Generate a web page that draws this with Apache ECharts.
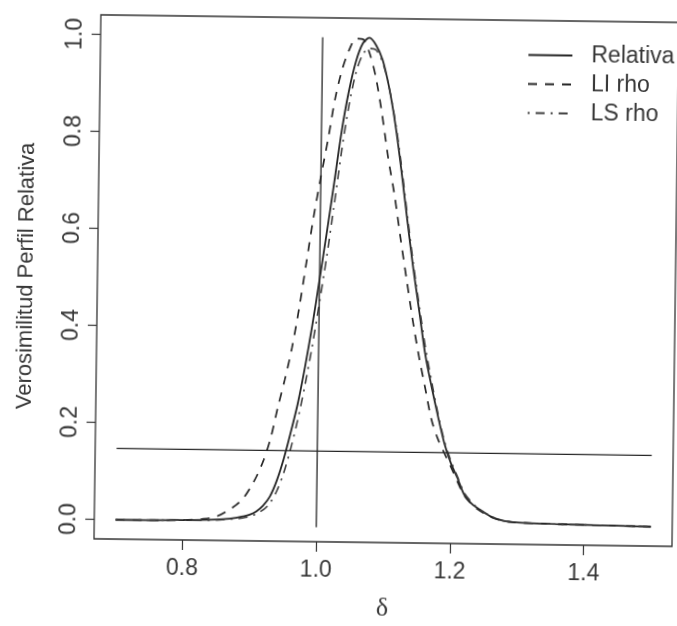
<!DOCTYPE html>
<html>
<head>
<meta charset="utf-8">
<script src="https://cdn.jsdelivr.net/npm/echarts@6/dist/echarts.min.js"></script>
<style>
  html, body { margin: 0; padding: 0; background: #fff; overflow: hidden; }
  #chart { width: 677px; height: 626px; transform: rotate(0.75deg); transform-origin: 50% 50%; }
</style>
</head>
<body>
<div id="chart"></div>
<script>
// delta grid and the three relative likelihood curves
const delta = [0.70, 0.75, 0.80, 0.83, 0.85, 0.87, 0.88, 0.89, 0.90, 0.91,
  0.92, 0.93, 0.94, 0.95, 0.96, 0.97, 0.98, 0.99, 1.00, 1.01,
  1.02, 1.03, 1.04, 1.05, 1.06, 1.07, 1.08, 1.09, 1.10, 1.11,
  1.12, 1.13, 1.14, 1.15, 1.16, 1.17, 1.18, 1.19, 1.20, 1.21,
  1.22, 1.23, 1.24, 1.26, 1.28, 1.30, 1.35, 1.40, 1.45, 1.50];
const relativa = [0, 0, 0.001, 0.002, 0.003, 0.005, 0.007, 0.010, 0.014, 0.021,
  0.033, 0.052, 0.085, 0.130, 0.185, 0.245, 0.320, 0.405, 0.500, 0.598,
  0.700, 0.805, 0.888, 0.950, 0.988, 1.000, 0.985, 0.955, 0.900, 0.825,
  0.730, 0.625, 0.525, 0.435, 0.345, 0.280, 0.220, 0.165, 0.125, 0.095,
  0.062, 0.045, 0.034, 0.017, 0.008, 0.005, 0.003, 0.002, 0.001, 0];
const liRho = [0, 0, 0.001, 0.004, 0.009, 0.024, 0.034, 0.047, 0.068, 0.094,
  0.127, 0.172, 0.235, 0.293, 0.358, 0.440, 0.535, 0.630, 0.712, 0.790,
  0.875, 0.935, 0.975, 0.998, 0.997, 0.970, 0.920, 0.845, 0.755, 0.680,
  0.590, 0.504, 0.420, 0.345, 0.280, 0.215, 0.175, 0.146, 0.118, 0.088,
  0.060, 0.044, 0.032, 0.016, 0.008, 0.005, 0.003, 0.002, 0.001, 0];
const lsRho = [0, 0, 0.001, 0.001, 0.002, 0.004, 0.005, 0.007, 0.010, 0.016,
  0.024, 0.038, 0.063, 0.100, 0.150, 0.210, 0.280, 0.360, 0.450, 0.545,
  0.650, 0.760, 0.855, 0.925, 0.965, 0.978, 0.975, 0.950, 0.900, 0.830,
  0.740, 0.635, 0.535, 0.445, 0.360, 0.290, 0.225, 0.170, 0.130, 0.098,
  0.066, 0.048, 0.035, 0.018, 0.008, 0.005, 0.003, 0.002, 0.001, 0];

// cut-off line and reference line at delta = 1
const cutX = [0.7, 1.5];
const cutY = [0.1466, 0.1466];
const refX = [1.0, 1.0];
const refY = [-0.01, 1.0];

const xTicks = [0.8, 1.0, 1.2, 1.4];
const yTicks = [0, 0.2, 0.4, 0.6, 0.8, 1.0];

const zip = (xs, ys) => xs.map((x, i) => [x, ys[i]]);

const ink = '#262626';
const textColor = '#383838';
const font = 'Liberation Sans';

const chart = echarts.init(document.getElementById('chart'));
chart.setOption({
  animation: false,
  backgroundColor: '#fff',
  grid: {
    left: 97,
    top: 18,
    width: 578,
    height: 524,
    show: true,
    borderColor: '#333',
    borderWidth: 1.3
  },
  legend: {
    orient: 'vertical',
    left: 519,
    top: 36,
    itemWidth: 44,
    itemHeight: 14,
    itemGap: 6,
    itemStyle: { opacity: 0, borderWidth: 0 },
    textStyle: {
      fontFamily: font,
      fontSize: 23,
      color: textColor,
      lineHeight: 22,
      padding: [0, 0, 0, 14]
    },
    data: ['Relativa', 'LI rho', 'LS rho']
  },
  xAxis: {
    type: 'value',
    min: 0.668,
    max: 1.532,
    name: 'δ',
    nameLocation: 'middle',
    nameGap: 53,
    nameTextStyle: { fontFamily: 'Liberation Serif', fontSize: 26, color: textColor },
    axisLine: { show: false, onZero: false },
    splitLine: { show: false },
    axisTick: {
      show: true,
      length: 10,
      customValues: xTicks,
      lineStyle: { color: '#333', width: 1.2 }
    },
    axisLabel: {
      customValues: xTicks,
      margin: 17,
      fontFamily: font,
      fontSize: 23,
      color: textColor,
      formatter: v => v.toFixed(1)
    }
  },
  yAxis: {
    type: 'value',
    min: -0.04,
    max: 1.04,
    name: 'Verosimilitud Perfil Relativa',
    nameLocation: 'middle',
    nameRotate: 90,
    nameGap: 60,
    nameTextStyle: { fontFamily: font, fontSize: 22, color: textColor },
    axisLine: { show: false, onZero: false },
    splitLine: { show: false },
    axisTick: {
      show: true,
      length: 9,
      customValues: yTicks,
      lineStyle: { color: '#333', width: 1.2 }
    },
    axisLabel: {
      customValues: yTicks,
      rotate: 90,
      margin: 14,
      fontFamily: font,
      fontSize: 23,
      color: textColor,
      formatter: v => v.toFixed(1)
    }
  },
  series: [
    {
      name: 'Relativa',
      type: 'line',
      data: zip(delta, relativa),
      symbol: 'none',
      smooth: 0.3,
      lineStyle: { color: ink, width: 1.8, type: 'solid' },
      itemStyle: { color: ink }
    },
    {
      name: 'LI rho',
      type: 'line',
      data: zip(delta, liRho),
      symbol: 'none',
      smooth: 0.3,
      lineStyle: { color: ink, width: 1.7, type: [9, 8] },
      itemStyle: { color: ink }
    },
    {
      name: 'LS rho',
      type: 'line',
      data: zip(delta, lsRho),
      symbol: 'none',
      smooth: 0.3,
      lineStyle: { color: '#404040', width: 1.6, type: [2, 6, 9, 6] },
      itemStyle: { color: '#404040' }
    },
    {
      name: 'cut',
      type: 'line',
      data: zip(cutX, cutY),
      symbol: 'none',
      lineStyle: { color: ink, width: 1.3 },
      silent: true
    },
    {
      name: 'ref',
      type: 'line',
      data: zip(refX, refY),
      symbol: 'none',
      lineStyle: { color: ink, width: 1.3 },
      silent: true
    }
  ]
});
</script>
</body>
</html>
